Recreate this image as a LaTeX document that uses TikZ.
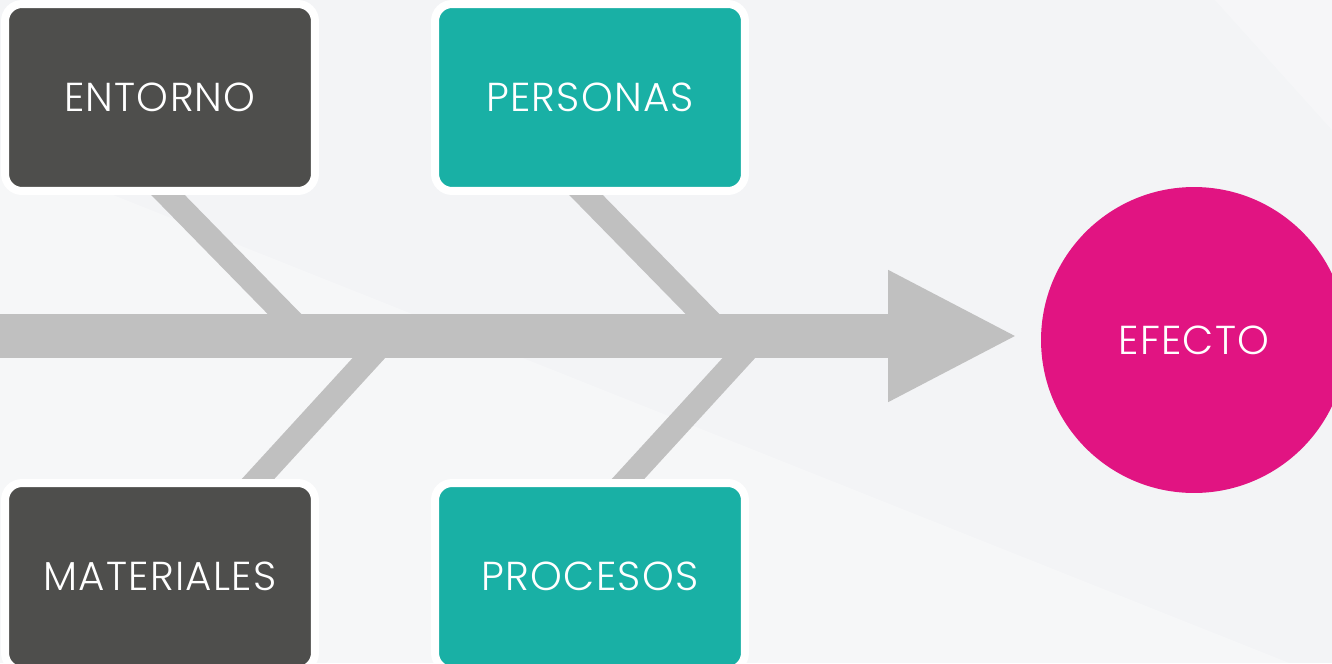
\documentclass[tikz,border=0pt]{standalone}
\usepackage{fontspec}
\IfFontExistsTF{Poppins Light}{\setmainfont{Poppins Light}[LetterSpace=3]}{\setmainfont{Poppins}[LetterSpace=3]}
\usepackage{xcolor}
\usetikzlibrary{arrows.meta,positioning,calc,backgrounds}
\definecolor{bgcolor}{RGB}{243,244,246}
\definecolor{darkcolor}{RGB}{78,78,76}
\definecolor{tealcolor}{RGB}{25,176,165}
\definecolor{effectcolor}{RGB}{225,20,130}
\definecolor{bonecolor}{RGB}{192,192,192}

\begin{document}
\begin{tikzpicture}[
    x=0.02cm, y=-0.02cm,
    every node/.style={font=\fontsize{23}{27}\selectfont, text=white},
    cause/.style={rectangle, rounded corners=0.34cm, draw=white, line width=0.16cm, minimum width=6.2cm, minimum height=3.74cm, inner sep=0pt},
    dark/.style={cause, fill=darkcolor},
    teal/.style={cause, fill=tealcolor},
    effect/.style={circle, fill=effectcolor, minimum size=6.12cm, inner sep=0pt},
    spine/.style={line width=0.88cm, bonecolor, -{Triangle[length=2.6cm, width=2.44cm]}},
    bone/.style={line width=0.48cm, bonecolor, shorten <=-0.3cm}
]

\useasboundingbox (0,0) rectangle (1332,663);

% Causes
\node[dark] (entorno) at (160,97.5) {ENTORNO};
\node[teal] (personas) at (590,97.5) {PERSONAS};
\node[dark] (materiales) at (160,576.5) {MATERIALES};
\node[teal] (procesos) at (590,576.5) {PROCESOS};

% Effect
\node[effect] (efecto) at (1194,340) {EFECTO};

% Spine points
\coordinate (tail) at (0,336);
\coordinate (head) at (1018,336);
\coordinate (j1) at (306,336);
\coordinate (j2) at (724,336);
\coordinate (j3) at (389,336);
\coordinate (j4) at (759,336);

\begin{scope}[on background layer]
% Background
\fill[bgcolor] (0,0) rectangle (1332,663);
\fill[white, opacity=0.3] (0,150) -- (1332,680) -- (0,663) -- cycle;
\fill[white, opacity=0.25] (1215,0) -- (1332,0) -- (1332,130) -- cycle;

% Bones
\draw[bone] ($(entorno.south)+(8,0)$) -- (j1);
\draw[bone] ($(personas.south)+(-4,0)$) -- (j2);
\draw[bone] ($(materiales.north)+(98,0)$) -- (j3);
\draw[bone] ($(procesos.north)+(38,0)$) -- (j4);

% Spine
\draw[spine] (tail) -- (head);
\end{scope}

\end{tikzpicture}
\end{document}
